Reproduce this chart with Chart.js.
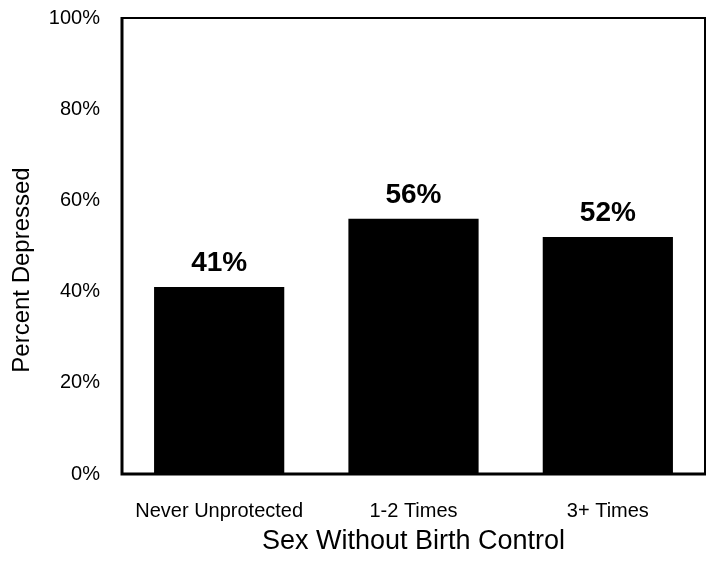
<!DOCTYPE html>
<html>
<head>
<meta charset="utf-8">
<script src="https://cdn.jsdelivr.net/npm/chart.js@4.4.1/dist/chart.umd.min.js"></script>
<style>
  html, body { margin: 0; padding: 0; background: #fff; }
</style>
</head>
<body>
<canvas id="chart" width="713" height="563"></canvas>
<script>
// ===== Data =====
const categories = ['Never Unprotected', '1-2 Times', '3+ Times'];
const percentDepressed = [41, 56, 52];
const yTicks = [0, 20, 40, 60, 80, 100];
const xTitle = 'Sex Without Birth Control';
const yTitle = 'Percent Depressed';

const FONT = "'Liberation Sans', Arial, sans-serif";

// ===== Frame, value labels, y title =====
const extras = {
    id: 'extras',
    afterDatasetsDraw(chart) {
        const { ctx, chartArea: a } = chart;
        ctx.save();

        // box around plot
        ctx.strokeStyle = '#000';
        ctx.lineWidth = 2;
        ctx.beginPath();
        ctx.moveTo(a.left, a.top);
        ctx.lineTo(a.right, a.top);
        ctx.lineTo(a.right, a.bottom);
        ctx.stroke();
        ctx.lineWidth = 3;
        ctx.beginPath();
        ctx.moveTo(a.left, a.top - 1);
        ctx.lineTo(a.left, a.bottom);
        ctx.lineTo(a.right + 1, a.bottom);
        ctx.stroke();

        // value labels
        ctx.fillStyle = '#000';
        ctx.font = 'bold 28px ' + FONT;
        ctx.textAlign = 'center';
        ctx.textBaseline = 'alphabetic';
        chart.getDatasetMeta(0).data.forEach((bar, i) => {
            ctx.fillText(percentDepressed[i] + '%', bar.x, bar.y - 16);
        });

        // y axis title
        ctx.font = '24px ' + FONT;
        ctx.textBaseline = 'middle';
        ctx.translate(22, (a.top + a.bottom) / 2 + 24);
        ctx.rotate(-Math.PI / 2);
        ctx.fillText(yTitle, 0, 0);

        ctx.restore();
    }
};

// ===== Bar Chart =====
new Chart(document.getElementById('chart').getContext('2d'), {
    type: 'bar',
    data: {
        labels: categories,
        datasets: [{
            data: percentDepressed,
            backgroundColor: '#000',
            borderWidth: 0,
            categoryPercentage: 1,
            barPercentage: 0.67
        }]
    },
    options: {
        responsive: false,
        animation: false,
        layout: { padding: { top: 18, right: 8, left: 0, bottom: 0 } },
        scales: {
            x: {
                grid: { display: false },
                border: { display: false },
                ticks: {
                    color: '#000',
                    font: { family: FONT, size: 20 },
                    padding: 17,
                    maxRotation: 0,
                    autoSkip: false
                },
                title: {
                    display: true,
                    text: xTitle,
                    color: '#000',
                    font: { family: FONT, size: 27 },
                    padding: { top: 0, bottom: 5 }
                },
                afterFit: (s) => { s.height = 89; s.paddingLeft = 0; s.paddingRight = 0; }
            },
            y: {
                min: 0,
                max: 100,
                grid: { display: false },
                border: { display: false },
                afterBuildTicks: (s) => { s.ticks = yTicks.map(v => ({ value: v })); },
                ticks: {
                    color: '#000',
                    font: { family: FONT, size: 20 },
                    padding: 14,
                    callback: (v) => v + '%'
                },
                afterFit: (s) => { s.width = 122; s.paddingTop = 0; s.paddingBottom = 0; }
            }
        },
        plugins: {
            legend: { display: false },
            tooltip: { enabled: false }
        }
    },
    plugins: [extras]
});
</script>
</body>
</html>
